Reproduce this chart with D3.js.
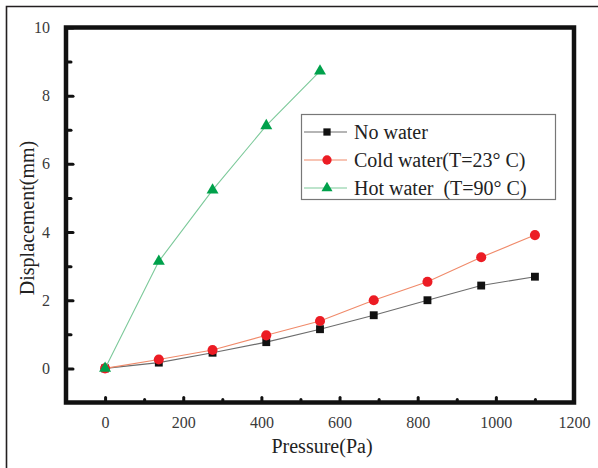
<!DOCTYPE html>
<html>
<head>
<meta charset="utf-8">
<script src="https://cdn.jsdelivr.net/npm/d3@7"></script>
<style>
  body { margin: 0; background: #fff; }
  svg { display: block; }
  text { font-family: "Liberation Serif", "DejaVu Serif", serif; }
</style>
</head>
<body>
<script>
const pressure = [0, 137.5, 275, 412.5, 550, 687.5, 825, 962.5, 1100];
const noWater = [0, 0.17, 0.46, 0.77, 1.15, 1.56, 2.0, 2.43, 2.69];
const coldWater = [0, 0.26, 0.54, 0.97, 1.39, 2.0, 2.54, 3.26, 3.91];
const hotWater = [0, 3.14, 5.23, 7.12, 8.72];
const seriesNames = ["No water", "Cold water(T=23° C)", "Hot water\u00a0\u00a0(T=90° C)"];
const xMajor = [0, 200, 400, 600, 800, 1000, 1200];
const xMinor = [100, 300, 500, 700, 900, 1100];
const yMajor = [0, 2, 4, 6, 8, 10];
const yMinor = [1, 3, 5, 7, 9];

const svgWidth = 598;
const svgHeight = 468;
const margin = {top: 27.5, right: 24, bottom: 65.5, left: 66};
const serif = "'Liberation Serif', 'DejaVu Serif', serif";

window.onload = main;

function main() {
    const svg = d3.select("body").append("svg")
        .attr("width", svgWidth)
        .attr("height", svgHeight)
        .attr("font-family", serif);

    // outer frame of the figure
    svg.append("path")
        .attr("d", `M${svgWidth},6.5 H6.5 V${svgHeight}`)
        .attr("fill", "none")
        .attr("stroke", "#231f20")
        .attr("stroke-width", 1.6);

    const x = d3.scaleLinear().domain([-100, 1200]).range([margin.left, svgWidth - margin.right]);
    const y = d3.scaleLinear().domain([-1, 10]).range([svgHeight - margin.bottom, margin.top]);

    const series = [
        {name: seriesNames[0], xs: pressure, ys: noWater, line: "#6d6d6d", fill: "#111", shape: d3.symbolSquare, size: 62},
        {name: seriesNames[1], xs: pressure, ys: coldWater, line: "#f08a6a", fill: "#ec1c24", shape: d3.symbolCircle, size: 80},
        {name: seriesNames[2], xs: pressure.slice(0, hotWater.length), ys: hotWater, line: "#7cc99a", fill: "#00a14b", shape: d3.symbolTriangle, size: 62}
    ];

    // ticks point inward, minor ones shorter
    const tickStyle = g => g.attr("font-family", serif).attr("font-size", 16)
        .call(g => g.select(".domain").remove())
        .call(g => g.selectAll(".tick line").attr("stroke", "#111").attr("stroke-width", 3).attr("stroke-linecap", "round"))
        .call(g => g.selectAll(".tick text").attr("fill", "#3a3a3a"));

    svg.append("g").attr("transform", `translate(0,${y.range()[0]})`)
        .call(d3.axisBottom(x).tickValues(xMajor).tickSizeInner(-5).tickSizeOuter(0).tickPadding(14).tickFormat(d3.format("d")))
        .call(tickStyle);
    svg.append("g").attr("transform", `translate(0,${y.range()[0]})`)
        .call(d3.axisBottom(x).tickValues(xMinor).tickSizeInner(-3).tickSizeOuter(0).tickFormat(""))
        .call(tickStyle);
    svg.append("g").attr("transform", `translate(${x.range()[0]},0)`)
        .call(d3.axisLeft(y).tickValues(yMajor).tickSizeInner(-7).tickSizeOuter(0).tickPadding(16))
        .call(tickStyle);
    svg.append("g").attr("transform", `translate(${x.range()[0]},0)`)
        .call(d3.axisLeft(y).tickValues(yMinor).tickSizeInner(-5).tickSizeOuter(0).tickFormat(""))
        .call(tickStyle);

    // plot box
    svg.append("rect")
        .attr("x", x.range()[0]).attr("y", y.range()[1])
        .attr("width", x.range()[1] - x.range()[0])
        .attr("height", y.range()[0] - y.range()[1])
        .attr("fill", "none")
        .attr("stroke", "#111")
        .attr("stroke-width", 4.5);

    const line = d3.line().x(d => x(d[0])).y(d => y(d[1]));

    series.forEach(s => {
        const pts = s.xs.map((v, i) => [v, s.ys[i]]);
        svg.append("path")
            .datum(pts)
            .attr("d", line)
            .attr("fill", "none")
            .attr("stroke", s.line)
            .attr("stroke-width", 1.1);
        svg.append("g").selectAll("path")
            .data(pts)
            .join("path")
            .attr("transform", d => `translate(${x(d[0])},${y(d[1])})`)
            .attr("d", d3.symbol(s.shape, s.size))
            .attr("fill", s.fill);
    });

    // axis titles
    svg.append("text")
        .attr("x", (x.range()[0] + x.range()[1]) / 2 + 2)
        .attr("y", 453)
        .attr("text-anchor", "middle")
        .attr("fill", "#222")
        .attr("font-size", 20)
        .text("Pressure(Pa)");
    svg.append("text")
        .attr("transform", `translate(34,${(y.range()[0] + y.range()[1]) / 2 + 3}) rotate(-90)`)
        .attr("text-anchor", "middle")
        .attr("fill", "#222")
        .attr("font-size", 20)
        .text("Displacement(mm)");

    // legend
    const legend = svg.append("g").attr("transform", "translate(301,114)");
    legend.append("rect")
        .attr("x", 0.5).attr("y", 0.5)
        .attr("width", 254).attr("height", 85)
        .attr("fill", "#fff")
        .attr("stroke", "#777")
        .attr("stroke-width", 1.2);
    const rowY = d3.scalePoint().domain(seriesNames).range([18, 74]);
    series.forEach(s => {
        const g = legend.append("g").attr("transform", `translate(0,${rowY(s.name)})`);
        g.append("line").attr("x1", 3).attr("x2", 46)
            .attr("stroke", s.line).attr("stroke-width", 1.1);
        g.append("path").attr("transform", "translate(26,0)")
            .attr("d", d3.symbol(s.shape, s.size * 0.85))
            .attr("fill", s.fill);
        g.append("text")
            .attr("x", 53).attr("dy", "0.34em")
            .attr("fill", "#222")
            .attr("font-size", 20)
            .text(s.name);
    });
}
</script>
</body>
</html>
